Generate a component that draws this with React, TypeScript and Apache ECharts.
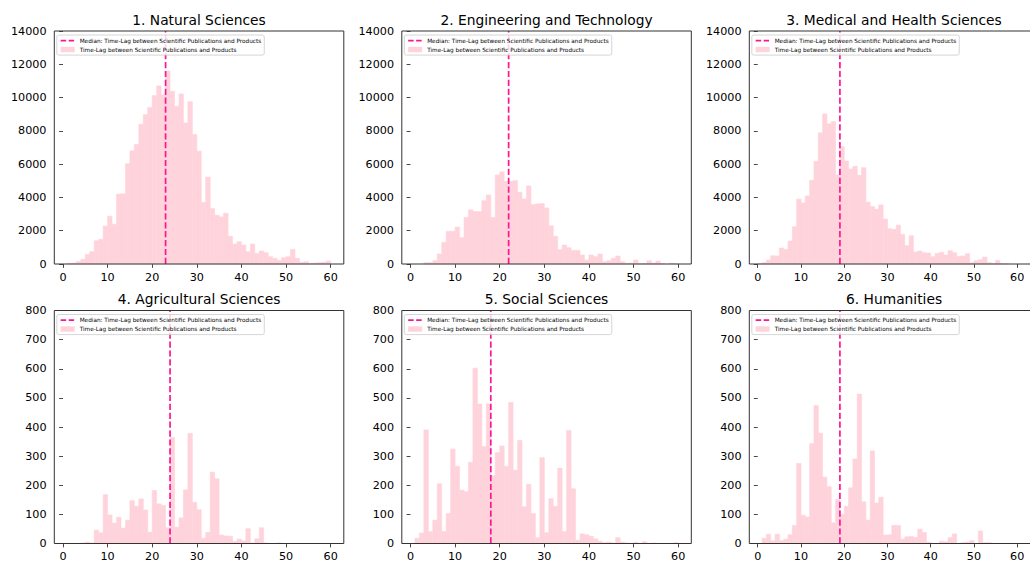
import React, { useEffect, useRef } from 'react';
import * as echarts from 'echarts';

const titles = [
  '1. Natural Sciences',
  '2. Engineering and Technology',
  '3. Medical and Health Sciences',
  '4. Agricultural Sciences',
  '5. Social Sciences',
  '6. Humanities',
];
const medians = [23, 22, 19, 24, 18, 19];
const yMaxes = [14000, 14000, 14000, 800, 800, 800];
const yIntervals = [2000, 2000, 2000, 100, 100, 100];
const xTicks = [0, 10, 20, 30, 40, 50, 60];
const binStart = 0;
const binWidth = 1;

const natural = [0, 40, 60, 150, 280, 580, 740, 1400, 1480, 2280, 2870, 2390, 4200, 4220, 6030, 6800, 7190, 8400, 8980, 9400, 10120, 10700, 10160, 11600, 10380, 9480, 10220, 8470, 9750, 7780, 6780, 3700, 5220, 3330, 2930, 2830, 3050, 1660, 1200, 1340, 1140, 740, 1200, 640, 780, 680, 440, 340, 220, 380, 440, 880, 340, 100, 140, 40, 60, 80, 100, 180];
const engineering = [0, 0, 0, 80, 80, 200, 600, 1300, 1960, 1960, 2220, 1580, 2800, 3250, 3150, 3150, 3800, 4150, 2800, 5350, 5530, 4970, 4970, 5010, 4310, 3910, 4690, 3570, 3610, 3630, 3370, 2300, 1660, 860, 1140, 980, 820, 820, 540, 240, 540, 440, 600, 140, 200, 340, 480, 140, 40, 60, 240, 20, 20, 200, 60, 180, 20, 0, 40, 20];
const medical = [20, 80, 240, 500, 480, 960, 880, 1380, 2240, 3900, 3670, 4090, 5030, 6170, 7880, 9020, 8420, 8560, 5350, 7050, 6190, 5710, 5870, 5330, 5790, 3710, 3450, 3290, 3550, 2700, 2120, 2080, 2340, 1780, 1100, 1700, 720, 780, 680, 660, 440, 640, 700, 540, 800, 680, 460, 480, 620, 80, 200, 260, 420, 80, 20, 220, 20, 20, 0, 0];
const agricultural = [0, 0, 0, 0, 2, 5, 2, 46, 37, 168, 98, 70, 90, 53, 80, 147, 128, 153, 115, 39, 182, 136, 131, 54, 364, 56, 88, 184, 378, 141, 116, 18, 38, 245, 222, 29, 26, 25, 7, 15, 9, 51, 2, 16, 54, 2, 0, 0, 2, 0, 0, 0, 0, 0, 0, 0, 0, 0, 0, 0];
const social = [0, 18, 36, 390, 41, 80, 205, 41, 103, 324, 265, 183, 178, 279, 602, 479, 333, 479, 233, 312, 335, 265, 484, 252, 354, 126, 203, 103, 20, 295, 37, 154, 128, 259, 41, 388, 188, 11, 33, 30, 25, 16, 8, 3, 5, 2, 20, 5, 2, 0, 4, 0, 6, 0, 2, 0, 0, 0, 0, 3];
const humanities = [0, 18, 32, 9, 32, 10, 15, 30, 62, 275, 97, 91, 343, 474, 379, 228, 195, 71, 151, 100, 128, 191, 290, 513, 143, 80, 318, 139, 159, 29, 30, 62, 62, 15, 23, 24, 21, 49, 38, 5, 0, 0, 8, 6, 20, 33, 0, 3, 5, 10, 0, 43, 3, 3, 0, 0, 0, 0, 0, 0];
const panelCounts = [natural, engineering, medical, agricultural, social, humanities];

const medianName = 'Median: Time-Lag between Scientific Publications and Products';
const histName = 'Time-Lag between Scientific Publications and Products';

const FONT = 'DejaVu Sans';
const HIST_COLOR = '#FFD3DB';
const MEDIAN_COLOR = '#FF1493';
const SPINE = '#333333';
const COL_LEFT = [54.3, 401.8, 749.3];
const ROW_TOP = [31, 310.5];
const GRID_W = 289.5;
const GRID_H = 233;

function buildOption() {
  const grid: any[] = [];
  const xAxis: any[] = [];
  const yAxis: any[] = [];
  const series: any[] = [];
  const legend: any[] = [];
  const graphic: any[] = [];

  for (let i = 0; i < 6; i++) {
    const left = COL_LEFT[i % 3];
    const top = ROW_TOP[Math.floor(i / 3)];
    grid.push({ left, top, width: GRID_W, height: GRID_H, show: false, containLabel: false });
    xAxis.push({
      type: 'value', gridIndex: i, min: -1.95, max: 62.95,
      axisLine: { show: false },
      splitLine: { show: false },
      axisTick: { show: true, length: 3.9, customValues: xTicks, lineStyle: { color: SPINE, width: 0.9 } },
      axisLabel: { customValues: xTicks, color: '#000', fontSize: 11.2, fontFamily: FONT, margin: 7.5, formatter: (v: number) => String(v) },
    });
    yAxis.push({
      type: 'value', gridIndex: i, min: 0, max: yMaxes[i], interval: yIntervals[i],
      axisLine: { show: false },
      splitLine: { show: false },
      axisTick: { show: true, length: 3.9, lineStyle: { color: SPINE, width: 0.9 } },
      axisLabel: { color: '#000', fontSize: 11.2, fontFamily: FONT, margin: 7.8, formatter: (v: number) => String(v) },
    });
    const data = panelCounts[i].map((c, k) => [binStart + k * binWidth, binStart + (k + 1) * binWidth, c]);
    series.push({
      type: 'custom', name: histName, xAxisIndex: i, yAxisIndex: i,
      itemStyle: { color: HIST_COLOR },
      encode: { x: [0, 1], y: 2 },
      data,
      renderItem: (params: any, api: any) => {
        const x0 = api.value(0);
        const x1 = api.value(1);
        const y = api.value(2);
        if (!y) return null;
        const p0 = api.coord([x0, y]);
        const p1 = api.coord([x1, 0]);
        return {
          type: 'rect',
          shape: { x: p0[0], y: p0[1], width: p1[0] - p0[0], height: p1[1] - p0[1] },
          style: { fill: HIST_COLOR, stroke: HIST_COLOR, lineWidth: 0.6 },
        };
      },
      silent: true,
      z: 2,
    });
    series.push({
      type: 'line', name: medianName, xAxisIndex: i, yAxisIndex: i,
      data: [[medians[i], 0], [medians[i], yMaxes[i]]],
      symbol: 'none', silent: true,
      lineStyle: { color: MEDIAN_COLOR, width: 1.7, type: [6.2, 2.7] },
      itemStyle: { color: MEDIAN_COLOR },
      z: 3,
    });
    legend.push({
      orient: 'vertical', left: left + 2.5, top: top + 4,
      data: [
        { name: medianName, itemStyle: { opacity: 0 }, lineStyle: { color: MEDIAN_COLOR, width: 1.7, type: [5.5, 2.5] } },
        { name: histName, icon: 'rect', itemStyle: { color: HIST_COLOR } },
      ],
      itemWidth: 14, itemHeight: 5.4, itemGap: 2.9, itemTextGap: 4,
      padding: [2.6, 3, 2.6, 3],
      backgroundColor: 'rgba(255,255,255,0.8)', borderColor: '#cccccc', borderWidth: 0.8, borderRadius: 2,
      textStyle: { fontSize: 5.75, fontFamily: FONT, color: '#000' },
      selectedMode: false,
      z: 10,
    });
    graphic.push({
      type: 'rect', x: left, y: top, z: 20, silent: true,
      shape: { x: 0, y: 0, width: GRID_W, height: GRID_H },
      style: { fill: 'none', stroke: SPINE, lineWidth: 1 },
    });
    graphic.push({
      type: 'text', x: left + GRID_W / 2, y: top - 11.5,
      style: { text: titles[i], fontSize: 13.8, fontFamily: FONT, fill: '#000', align: 'center', verticalAlign: 'middle' },
      silent: true,
    });
  }
  return { animation: false, backgroundColor: '#fff', grid, xAxis, yAxis, series, legend, graphic };
}

export default function App() {
  const ref = useRef<HTMLDivElement>(null);
  useEffect(() => {
    if (!ref.current) return;
    const chart = echarts.init(ref.current, undefined, { renderer: 'svg' });
    chart.setOption(buildOption() as any);
    return () => chart.dispose();
  }, []);
  return <div ref={ref} style={{ position: 'absolute', left: 0, top: 0, width: 1030, height: 563 }} />;
}
